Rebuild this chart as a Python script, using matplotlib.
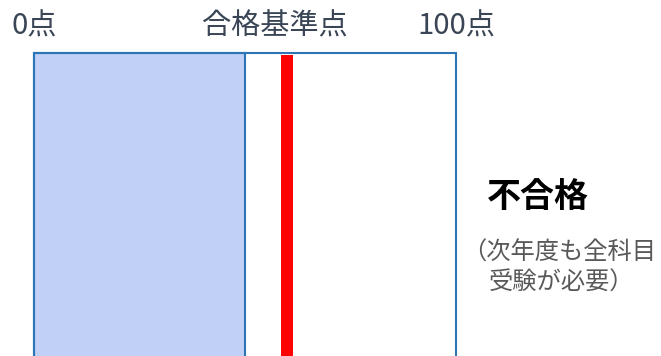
import matplotlib
matplotlib.use("Agg")
import matplotlib.pyplot as plt
from matplotlib.patches import Rectangle
from matplotlib.transforms import blended_transform_factory

plt.rcParams['font.family'] = ['Noto Sans CJK JP', 'DejaVu Sans']

# data
score_min = 0
score_max = 100
my_score = 50
pass_mark = 60
scale_labels = ["0点", "合格基準点", "100点"]
scale_label_pos = [0, 57, 100]
result_title = "不合格"
result_note = ["（次年度も全科目", "受験が必要）"]

W, H = 661, 356
fig = plt.figure(figsize=(W / 100, H / 100), dpi=100)
ax = fig.add_axes([34 / W, 0, 422 / W, (H - 53) / H])
ax.set_xlim(score_min, score_max)
ax.set_ylim(0, 1)
ax.axis('off')

edge = '#2E75B6'
# filled part (score)
ax.add_patch(Rectangle((score_min, -0.05), my_score - score_min, 1.05, facecolor='#C0D0F6',
                       edgecolor=edge, linewidth=1.5, clip_on=False))
# outer frame
ax.plot([score_min, score_min, score_max, score_max], [-0.05, 1, 1, -0.05], color=edge,
        linewidth=1.5, clip_on=False, solid_joinstyle='miter')
# pass mark line
ax.plot([pass_mark, pass_mark], [-0.05, 0.995], color='#FF0000', linewidth=8.6,
        solid_capstyle='butt', clip_on=False)

tr = blended_transform_factory(ax.transData, fig.transFigure)
for lab, pos in zip(scale_labels, scale_label_pos):
    ax.text(pos, 1 - 26 / H, lab, transform=tr, ha='center', va='center',
            fontsize=21, color='#3A4555', clip_on=False)

ax.text(107.3, 1 - 197 / H, result_title, transform=tr, ha='left', va='center',
        fontsize=24.5, fontweight='bold', color='#000000', clip_on=False)
ax.text(101.4, 1 - 253 / H, result_note[0], transform=tr, ha='left', va='center',
        fontsize=17.5, color='#595959', clip_on=False)
ax.text(107.8, 1 - 283 / H, result_note[1], transform=tr, ha='left', va='center',
        fontsize=17.5, color='#595959', clip_on=False)

fig.savefig('out.png', dpi=100)
